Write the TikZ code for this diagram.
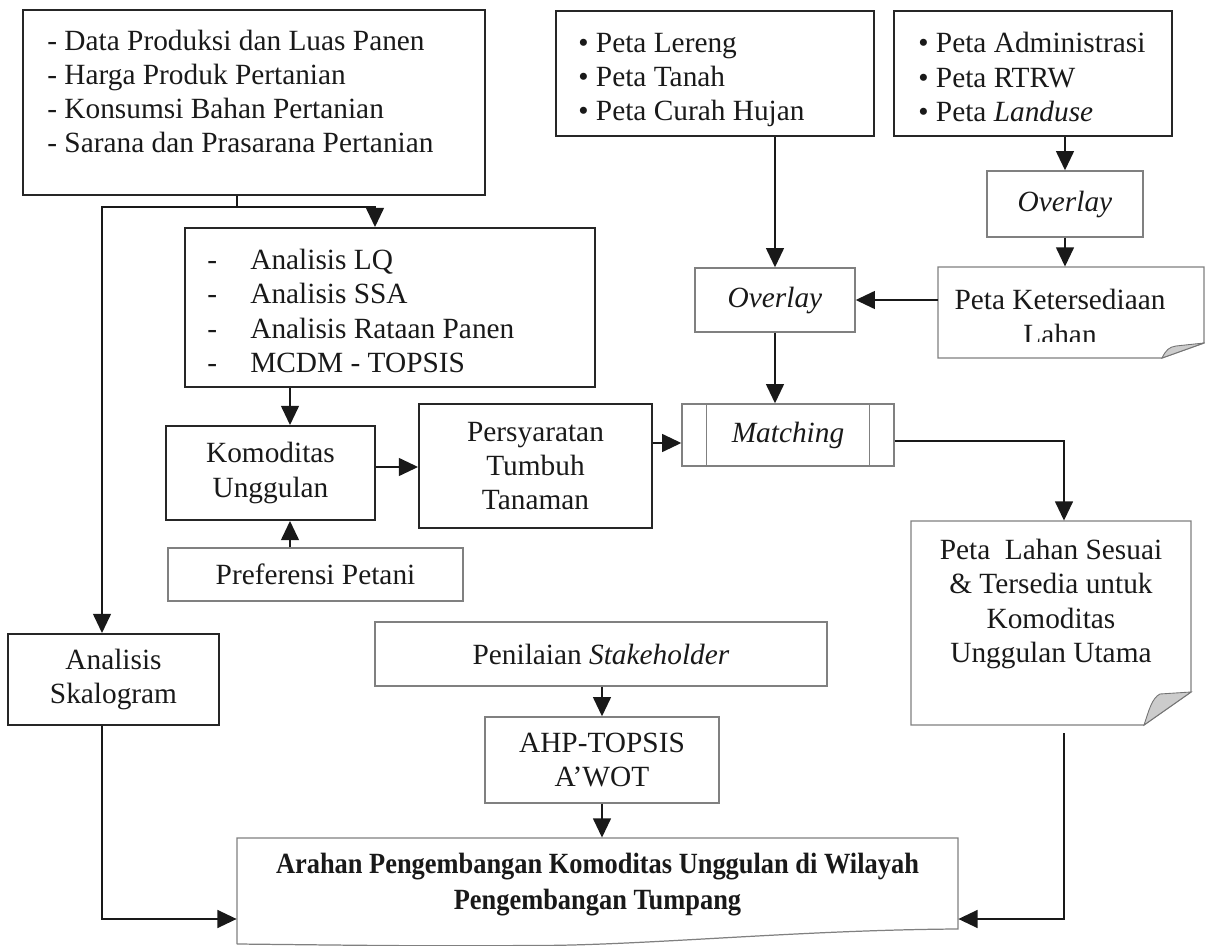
\documentclass[tikz,border=0pt]{standalone}
\usepackage{fontspec}
\setmainfont{Liberation Serif}
\usetikzlibrary{arrows.meta,calc}
\begin{document}
\begin{tikzpicture}[x=0.02cm,y=-0.02cm,
  every node/.style={font=\fontsize{16.7}{19.4}\selectfont, text=black!90},
  dbox/.style={draw=black!85, line width=1pt, inner sep=0pt, align=center},
  lbox/.style={draw=black!50, line width=0.7pt, inner sep=0pt, align=center},
  ghost/.style={draw=none, inner sep=0pt},
  txt/.style={inner sep=0pt, align=left},
  thinline/.style={draw=black!50, line width=0.7pt},
  arr/.style={line width=1.6pt, draw=black!90, -{Triangle[length=11pt,width=10pt]}},
  ln/.style={line width=1.2pt, draw=black!90}]
\useasboundingbox (0,0) rectangle (1205,946);

% ---- boxes ----
\node[dbox, minimum width=9.24cm, minimum height=3.7cm] (data) at (254,102.5) {};
\node[txt, anchor=west] (datat) at (47,91.5) {- Data Produksi dan Luas Panen\\- Harga Produk Pertanian\\- Konsumsi Bahan Pertanian\\- Sarana dan Prasarana Pertanian};

\node[dbox, minimum width=8.2cm, minimum height=3.18cm] (ana) at (390,307.5) {};
\node[txt, anchor=west] (anat) at (207,311) {\makebox[0.86cm][l]{-}Analisis LQ\\\makebox[0.86cm][l]{-}Analisis SSA\\\makebox[0.86cm][l]{-}Analisis Rataan Panen\\\makebox[0.86cm][l]{-}MCDM - TOPSIS};

\node[dbox, minimum width=4.18cm, minimum height=1.88cm] (kom) at (270.5,473) {Komoditas\\Unggulan};
\node[dbox, minimum width=4.66cm, minimum height=2.48cm] (pers) at (535.5,466) {Persyaratan\\Tumbuh\\Tanaman};
\node[lbox, minimum width=5.9cm, minimum height=1.06cm] (pref) at (315.5,574.5) {Preferensi Petani};

\node[lbox, minimum width=4.24cm, minimum height=1.24cm] (match) at (788,435) {\textit{Matching}};
\draw[thinline] ($(match.north west)+(25,0)$) -- ($(match.south west)+(25,0)$);
\draw[thinline] ($(match.north east)+(-25,0)$) -- ($(match.south east)+(-25,0)$);

\node[dbox, minimum width=6.36cm, minimum height=2.5cm] (lereng) at (715,73.5) {};
\node[txt, anchor=west] (lerengt) at (578,80) {• Peta Lereng\\• Peta Tanah\\• Peta Curah Hujan};

\node[dbox, minimum width=5.56cm, minimum height=2.5cm] (admin) at (1033,73.5) {};
\node[txt, anchor=west] (admint) at (918,77) {• Peta Administrasi\\• Peta RTRW\\• Peta \textit{Landuse}};

\node[lbox, minimum width=3.12cm, minimum height=1.32cm] (ov1) at (1065,204) {\textit{Overlay}};
\node[lbox, minimum width=3.2cm, minimum height=1.28cm] (ov2) at (775,300) {\textit{Overlay}};

% Peta Ketersediaan Lahan (folded corner)
\node[ghost, minimum width=5.32cm, minimum height=1.82cm] (ket) at (1071,312.5) {};
\draw[thinline] (938,267) -- (1204,267) -- (1204,343) -- (1162,358) -- (938,358) -- cycle;
\filldraw[fill=black!20, draw=black!55, line width=0.5pt] (1162,358) .. controls (1166,350) and (1169,347) .. (1176,346) -- (1204,343) -- cycle;
\begin{scope}
\clip (930,260) rectangle (1210,341);
\node[inner sep=0pt, align=center] (kett) at (1060,317) {Peta Ketersediaan\\Lahan};
\end{scope}

% Peta Lahan Sesuai (folded corner)
\node[ghost, minimum width=5.6cm, minimum height=4.08cm] (lahan) at (1051,623) {};
\draw[thinline] (911,521) -- (1191,521) -- (1191,692) -- (1144,725) -- (911,725) -- cycle;
\filldraw[fill=black!20, draw=black!55, line width=0.5pt] (1144,725) .. controls (1149,710) and (1152,698) .. (1160,694) -- (1191,692) -- cycle;
\node[inner sep=0pt, align=center] (lahant) at (1051,604) {Peta\ \ Lahan Sesuai\\\& Tersedia untuk\\Komoditas\\Unggulan Utama};

\node[dbox, minimum width=4.22cm, minimum height=1.82cm] (skal) at (113.5,679.5) {Analisis\\Skalogram};
\node[lbox, minimum width=9.04cm, minimum height=1.28cm] (pen) at (601,654) {Penilaian \textit{Stakeholder}};
\node[lbox, minimum width=4.68cm, minimum height=1.72cm] (ahp) at (602,760) {AHP-TOPSIS\\A’WOT};

% Arahan (document shape)
\node[ghost, minimum width=14.42cm, minimum height=2.16cm] (arahan) at (597.5,892) {};
\draw[thinline] (237,944) -- (237,838) -- (958,838) -- (958,929) .. controls (800,930) and (650,945) .. (540,945.5) .. controls (420,946) .. (237,944);
\node[inner sep=0pt, align=center, font=\fontsize{16.7}{20}\selectfont\bfseries] (arahant) at (597.5,884.5) {\scalebox{0.9}[1]{Arahan Pengembangan Komoditas Unggulan di Wilayah}\\\scalebox{0.9}[1]{Pengembangan Tumpang}};

% ---- connectors ----
\coordinate (j) at (237,207);
\coordinate (j1) at (102,207);
\coordinate (j2) at (375,207);
\coordinate (ak) at (290,0);
\coordinate (al) at (1064,0);

\draw[ln] (data.south -| j) -- (j);
\draw[arr] (j) -- (j1) -- (j1 |- skal.north);
\draw[arr] (j) -- (j2) -- (j2 |- ana.north);
\draw[arr] (ana.south -| ak) -- (kom.north -| ak);
\draw[arr] (pref.north -| ak) -- (kom.south -| ak);
\draw[arr] ($(kom.east)+(0,-6)$) -- ($(kom.east -| pers.west)+(0,-6)$);
\draw[arr] ($(match.west -| pers.east)+(0,8)$) -- ($(match.west)+(0,8)$);
\draw[arr] (lereng.south -| ov2.north) -- (ov2.north);
\draw[arr] (ov2.south) -- (ov2.south |- match.north);
\draw[arr] (admin.south -| ov1.north) -- (ov1.north);
\draw[arr] (ov1.south) -- (ov1.south |- ket.north);
\draw[arr] (ov2.east -| ket.west) -- (ov2.east);
\draw[arr] ($(match.east)+(0,6)$) -| (al |- lahan.north);
\draw[arr] ($(lahan.south -| al)+(0,8)$) |- ($(arahan.east)+(0,27)$);
\draw[arr] (skal.south -| j1) |- ($(arahan.west)+(0,27)$);
\draw[arr] (pen.south -| ahp.north) -- (ahp.north);
\draw[arr] (ahp.south) -- (ahp.south |- arahan.north);
\end{tikzpicture}
\end{document}
